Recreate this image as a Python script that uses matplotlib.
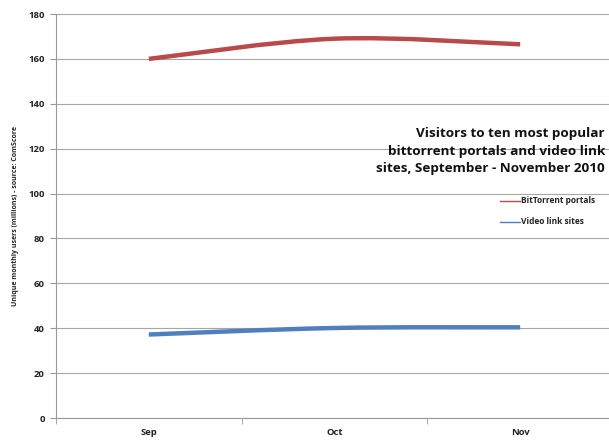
import matplotlib
matplotlib.use("Agg")
import matplotlib.pyplot as plt
import numpy as np
from matplotlib.path import Path
from matplotlib.patches import PathPatch

months = ["Sep", "Oct", "Nov"]
bittorrent = [160.0, 169.0, 166.5]
video_links = [37.2, 40.1, 40.4]
series_names = ["BitTorrent portals", "Video link sites"]
yticks = [0, 20, 40, 60, 80, 100, 120, 140, 160, 180]

plt.rcParams['font.family'] = ['Open Sans', 'DejaVu Sans']


def smooth_path(xs, ys, k=1.0 / 6):
    # bezier through the points, like Excel's smoothed line
    xs = list(xs); ys = list(ys)
    px = [xs[0]] + xs + [xs[-1]]
    py = [ys[0]] + ys + [ys[-1]]
    verts = [(xs[0], ys[0])]
    codes = [Path.MOVETO]
    for i in range(1, len(xs)):
        c1 = (px[i] + (px[i + 1] - px[i - 1]) * k, py[i] + (py[i + 1] - py[i - 1]) * k)
        c2 = (px[i + 1] - (px[i + 2] - px[i]) * k, py[i + 1] - (py[i + 2] - py[i]) * k)
        verts += [c1, c2, (px[i + 1], py[i + 1])]
        codes += [Path.CURVE4] * 3
    return Path(verts, codes)


fig = plt.figure(figsize=(6.09, 4.42), dpi=100)
ax = fig.add_axes([56 / 609, 1 - 418 / 442, (613 - 56) / 609, (418 - 14) / 442])
ax.set_xlim(0, 3)
ax.set_ylim(0, 180)

x = np.arange(len(months)) + 0.5
colors = ["#b94a4a", "#4f7fbf"]
for vals, col in zip([bittorrent, video_links], colors):
    ax.add_patch(PathPatch(smooth_path(x, vals), facecolor="none", edgecolor=col,
                           lw=3.2, capstyle="butt", zorder=3))

ax.set_yticks(yticks)
ax.set_yticklabels([str(v) for v in yticks], fontsize=6.8, fontweight="bold", color="#222222")
ax.set_xticks(x)
ax.set_xticklabels(months, fontsize=6.8, fontweight="bold", color="#222222")
ax.set_xticks([0, 1, 2, 3], minor=True)
ax.tick_params(axis="x", which="major", length=0, pad=7)
ax.tick_params(axis="x", which="minor", length=4, color="#999999")
ax.tick_params(axis="y", length=4, color="#999999", pad=4)
ax.grid(axis="y", color="#a6a6a6", lw=0.8)
ax.set_axisbelow(True)
for s in ["top", "right"]:
    ax.spines[s].set_visible(False)
for s in ["left", "bottom"]:
    ax.spines[s].set_color("#999999")
    ax.spines[s].set_linewidth(0.8)

ax.set_ylabel("Unique monthly users (millions) - source: ComScore", fontsize=5,
              fontweight="bold", color="#222222", labelpad=7)

fig.text(605 / 609, 1 - 151 / 442, "Visitors to ten most popular\nbittorrent portals and video link\nsites, September - November 2010",
         ha="right", va="center", fontsize=9.7, fontweight="bold", color="#111111",
         linespacing=1.45, transform=fig.transFigure)

for i, (name, col) in enumerate(zip(series_names, colors)):
    yy = 1 - (201 + 21 * i) / 442
    fig.add_artist(plt.Line2D([500 / 609, 520 / 609], [yy, yy], color=col, lw=1.0))
    fig.text(521 / 609, yy, name, ha="left", va="center", fontsize=6.0, color="#222222",
             fontweight="bold")

fig.savefig("out.png", dpi=100)
